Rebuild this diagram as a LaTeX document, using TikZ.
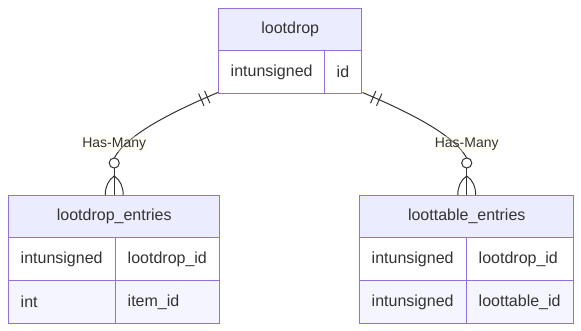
\documentclass[tikz,border=0pt]{standalone}
\usepackage{fontspec}
\setmainfont{Liberation Sans}
\definecolor{erborder}{HTML}{9370DB}
\definecolor{erhead}{HTML}{ECECFF}
\definecolor{erodd}{HTML}{F5F5FF}
\definecolor{ertext}{HTML}{333333}
\definecolor{erlabel}{HTML}{FFFFDE}
\usetikzlibrary{calc}

\tikzset{
  hdcell/.style={draw=erborder, fill=erhead, line width=1.1pt, anchor=north west,
    minimum height=31.5pt, inner sep=0pt, text=ertext, font=\fontsize{12}{14}\selectfont},
  rowcell/.style={draw=erborder, fill=white, line width=1.1pt, anchor=north west,
    minimum height=32.25pt, inner xsep=9pt, inner ysep=0pt, align=left,
    text=ertext, font=\fontsize{12}{14}\selectfont},
  oddcell/.style={rowcell, fill=erodd},
  rel/.style={draw=ertext, line width=0.75pt},
  hashmark/.style={draw=ertext, line width=0.75pt, minimum width=0pt, minimum height=10pt, inner sep=0pt},
  rellabel/.style={fill=erlabel, fill opacity=0.3, text opacity=1, inner sep=1pt,
    text=ertext, font=\fontsize{10.5}{12}\selectfont}
}

\begin{document}
\begin{tikzpicture}[x=0.75pt, y=-0.75pt]
  \useasboundingbox (0,0) rectangle (581,331);

  % lootdrop
  \node[hdcell, minimum width=107.25pt] (ld) at (218,8) {lootdrop};
  \node[rowcell, text width=61.5pt] (ldtype) at (218,50) {intunsigned};
  \node[rowcell, text width=9.75pt] (ldname) at (324,50) {id};

  % lootdrop_entries
  \node[hdcell, minimum width=158.25pt] (lde) at (8,195) {lootdrop\_entries};
  \node[rowcell, text width=62.25pt] (ldetype1) at (8,237) {intunsigned};
  \node[rowcell, text width=60pt] (ldename1) at (115,237) {lootdrop\_id};
  \node[oddcell, text width=62.25pt] (ldetype2) at (8,280) {int};
  \node[oddcell, text width=60pt] (ldename2) at (115,280) {item\_id};

  % loottable_entries
  \node[hdcell, minimum width=160.5pt] (lte) at (359,195) {loottable\_entries};
  \node[rowcell, text width=62.25pt] (ltetype1) at (359,237) {intunsigned};
  \node[rowcell, text width=62.25pt] (ltename1) at (466,237) {lootdrop\_id};
  \node[oddcell, text width=62.25pt] (ltetype2) at (359,280) {intunsigned};
  \node[oddcell, text width=62.25pt] (ltename2) at (466,280) {loottable\_id};

  % relation lootdrop -> lootdrop_entries
  \coordinate (ldeo) at ($(lde.north)+(0,-37)$);
  \draw[rel] ($(ldtype.south west)+(0,-2)$) .. controls +(-52,22) and +(12,-22) .. (ldeo)
    node[pos=0.07, sloped, hashmark] {} node[pos=0.11, sloped, hashmark] {};
  \node[rellabel] (lbl1) at ($(lde.north)+(0,-51)$) {Has-Many};
  \draw[rel] ($(ldeo)+(0,10)$) -- (lde.north);
  \draw[rel, fill=white] ($(ldeo)+(0,5)$) circle[radius=3.8pt];
  \draw[rel] ($(lde.north)+(0,-19)$) .. controls +(-6,4) and +(0,-8) .. ($(lde.north)+(-9,0)$);
  \draw[rel] ($(lde.north)+(0,-19)$) .. controls +(6,4) and +(0,-8) .. ($(lde.north)+(9,0)$);

  % relation lootdrop -> loottable_entries
  \coordinate (lteo) at ($(lte.north)+(0,-37)$);
  \draw[rel] ($(ldname.south east)+(0,-2)$) .. controls +(52,22) and +(-12,-22) .. (lteo)
    node[pos=0.07, sloped, hashmark] {} node[pos=0.11, sloped, hashmark] {};
  \node[rellabel] (lbl2) at ($(lte.north)+(0,-51)$) {Has-Many};
  \draw[rel] ($(lteo)+(0,10)$) -- (lte.north);
  \draw[rel, fill=white] ($(lteo)+(0,5)$) circle[radius=3.8pt];
  \draw[rel] ($(lte.north)+(0,-19)$) .. controls +(-6,4) and +(0,-8) .. ($(lte.north)+(-9,0)$);
  \draw[rel] ($(lte.north)+(0,-19)$) .. controls +(6,4) and +(0,-8) .. ($(lte.north)+(9,0)$);
\end{tikzpicture}
\end{document}
